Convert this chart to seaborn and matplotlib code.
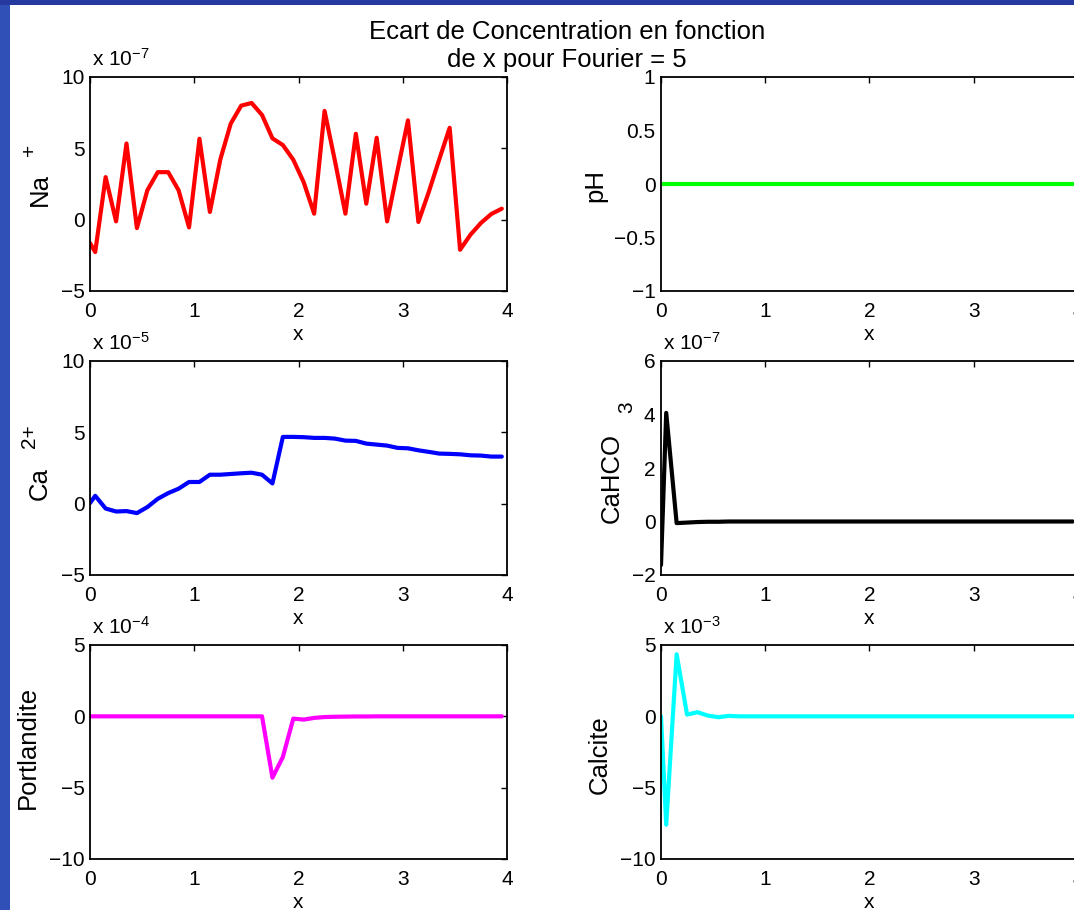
import numpy as np
import pandas as pd
import matplotlib
matplotlib.use("Agg")
import matplotlib.pyplot as plt
from matplotlib.patches import Rectangle
from matplotlib.ticker import FuncFormatter
import seaborn as sns

# ---------------- data (mantissas; exponent shown as "x 10^n") ----------------
x_pos = [0.0, 0.05, 0.15, 0.25, 0.35, 0.45, 0.55, 0.65, 0.75, 0.85, 0.95,
         1.05, 1.15, 1.25, 1.35, 1.45, 1.55, 1.65, 1.75, 1.85, 1.95,
         2.05, 2.15, 2.25, 2.35, 2.45, 2.55, 2.65, 2.75, 2.85, 2.95,
         3.05, 3.15, 3.25, 3.35, 3.45, 3.55, 3.65, 3.75, 3.85, 3.95]

na_vals = [-1.64, -2.27, 2.98, -0.12, 5.34, -0.59, 2.06, 3.33, 3.33, 2.06, -0.54,
           5.67, 0.54, 4.22, 6.73, 7.99, 8.18, 7.34, 5.70, 5.23, 4.20,
           2.62, 0.42, 7.62, 4.10, 0.42, 6.02, 1.12, 5.74, -0.12, 3.45,
           6.96, -0.16, 1.95, 4.22, 6.44, -2.11, -1.05, -0.23, 0.40, 0.77]

ph_vals = [0.0, 0.0, 0.0, 0.0, 0.0, 0.0, 0.0, 0.0, 0.0, 0.0, 0.0,
           0.0, 0.0, 0.0, 0.0, 0.0, 0.0, 0.0, 0.0, 0.0, 0.0,
           0.0, 0.0, 0.0, 0.0, 0.0, 0.0, 0.0, 0.0, 0.0, 0.0,
           0.0, 0.0, 0.0, 0.0, 0.0, 0.0, 0.0, 0.0, 0.0, 0.0]

ca_vals = [0.04, 0.55, -0.34, -0.55, -0.52, -0.66, -0.24, 0.34, 0.74, 1.05, 1.52,
           1.52, 2.03, 2.03, 2.08, 2.13, 2.17, 2.03, 1.42, 4.68, 4.68,
           4.66, 4.61, 4.61, 4.56, 4.42, 4.40, 4.21, 4.14, 4.07, 3.91,
           3.88, 3.74, 3.63, 3.51, 3.49, 3.46, 3.39, 3.37, 3.30, 3.30]

cahco3_vals = [-1.63, 4.06, -0.06, -0.04, -0.02, -0.01, -0.01, 0.0, 0.0, 0.0, 0.0,
               0.0, 0.0, 0.0, 0.0, 0.0, 0.0, 0.0, 0.0, 0.0, 0.0,
               0.0, 0.0, 0.0, 0.0, 0.0, 0.0, 0.0, 0.0, 0.0, 0.0,
               0.0, 0.0, 0.0, 0.0, 0.0, 0.0, 0.0, 0.0, 0.0, 0.0]

portlandite_vals = [0.0, 0.0, 0.0, 0.0, 0.0, 0.0, 0.0, 0.0, 0.0, 0.0, 0.0,
                    0.0, 0.0, 0.0, 0.0, 0.0, 0.0, 0.0, -4.30, -2.85, -0.16,
                    -0.23, -0.11, -0.05, -0.03, -0.02, -0.01, -0.01, 0.0, 0.0, 0.0,
                    0.0, 0.0, 0.0, 0.0, 0.0, 0.0, 0.0, 0.0, 0.0, 0.0]

calcite_vals = [0.0, -7.60, 4.35, 0.12, 0.29, 0.05, -0.06, 0.03, 0.0, 0.0, 0.0,
                0.0, 0.0, 0.0, 0.0, 0.0, 0.0, 0.0, 0.0, 0.0, 0.0,
                0.0, 0.0, 0.0, 0.0, 0.0, 0.0, 0.0, 0.0, 0.0, 0.0,
                0.0, 0.0, 0.0, 0.0, 0.0, 0.0, 0.0, 0.0, 0.0, 0.0]

exponents = {"na": -7, "ph": None, "ca": -5, "cahco3": -7, "portlandite": -4, "calcite": -3}
x_ticks = [0, 1, 2, 3, 4]
na_yticks = [-5, 0, 5, 10]
ph_yticks = [-1, -0.5, 0, 0.5, 1]
ca_yticks = [-5, 0, 5, 10]
cahco3_yticks = [-2, 0, 2, 4, 6]
portlandite_yticks = [-10, -5, 0, 5]
calcite_yticks = [-10, -5, 0, 5]

title_lines = ["Ecart de Concentration en fonction", "de x pour Fourier = 5"]

# ---------------- style ----------------
sns.set_style("white")
plt.rcParams["font.family"] = ["Liberation Sans", "DejaVu Sans"]
plt.rcParams["mathtext.fontset"] = "custom"
plt.rcParams["mathtext.rm"] = "Liberation Sans"
plt.rcParams["mathtext.it"] = "Liberation Sans"
plt.rcParams["axes.unicode_minus"] = True
plt.rcParams["text.color"] = "black"
plt.rcParams["axes.labelcolor"] = "black"
plt.rcParams["xtick.color"] = "black"
plt.rcParams["ytick.color"] = "black"

W, H = 1074, 910
fig = plt.figure(figsize=(W / 100, H / 100), dpi=100)
fig.patch.set_facecolor("white")

# decorative slide border
fig.add_artist(Rectangle((0, 0), 10 / W, 1, transform=fig.transFigure,
                         facecolor="#3050b8", edgecolor="none", zorder=10))
fig.add_artist(Rectangle((0, 1 - 5 / H), 1, 5 / H, transform=fig.transFigure,
                         facecolor="#26399e", edgecolor="none", zorder=10))

col_left = [90, 661]
ax_w = 417
rows = [(77, 291), (361, 575), (645, 859)]


def make_ax(col, row):
    l = col_left[col]
    t, b = rows[row]
    return fig.add_axes([l / W, 1 - b / H, ax_w / W, (b - t) / H])


def fmt(v, pos):
    s = "%g" % v
    return s.replace("-", "\u2212")


TICK_FS = 15
LAB_FS = 18.5

panels = [
    # (col, row, values, color, yticks, label, extra, extra_pos, label_pos, exponent)
    (0, 0, na_vals, "#ff0000", na_yticks, "Na", "+", (-0.144, 0.66), (-0.12, 0.472), exponents["na"]),
    (1, 0, ph_vals, "#00ff00", ph_yticks, "pH", None, None, (-0.158, 0.495), exponents["ph"]),
    (0, 1, ca_vals, "#0000ff", ca_yticks, "Ca", "2+", (-0.146, 0.647), (-0.12, 0.425), exponents["ca"]),
    (1, 1, cahco3_vals, "#000000", cahco3_yticks, "CaHCO", "3", (-0.082, 0.785), (-0.118, 0.453), exponents["cahco3"]),
    (0, 2, portlandite_vals, "#ff00ff", portlandite_yticks, "Portlandite", None, None, (-0.148, 0.519), exponents["portlandite"]),
    (1, 2, calcite_vals, "#00ffff", calcite_yticks, "Calcite", None, None, (-0.147, 0.486), exponents["calcite"]),
]

for col, row, vals, color, yticks, label, extra, extra_pos, label_pos, expo in panels:
    ax = make_ax(col, row)
    df = pd.DataFrame({"x": x_pos, "y": vals})
    sns.lineplot(data=df, x="x", y="y", ax=ax, color=color, linewidth=3,
                 estimator=None, sort=False)
    ax.set_xlim(0, 4)
    ax.set_ylim(yticks[0], yticks[-1])
    ax.set_xticks(x_ticks)
    ax.set_yticks(yticks)
    ax.xaxis.set_major_formatter(FuncFormatter(fmt))
    ax.yaxis.set_major_formatter(FuncFormatter(fmt))
    ax.tick_params(direction="in", length=4, width=1.0, labelsize=TICK_FS,
                   top=True, right=(col == 0), colors="black", labelcolor="black")
    ax.tick_params(axis="y", pad=4)
    ax.tick_params(axis="x", pad=8)
    for sp in ax.spines.values():
        sp.set_visible(True)
        sp.set_linewidth(1.3)
        sp.set_color("black")
    ax.set_xlabel("x", fontsize=TICK_FS, labelpad=3, color="black")
    ax.set_ylabel(label, fontsize=LAB_FS, va="center", color="black")
    ax.yaxis.set_label_coords(*label_pos)
    if extra is not None:
        ax.text(extra_pos[0], extra_pos[1], extra, transform=ax.transAxes,
                rotation=90, ha="center", va="center", fontsize=TICK_FS,
                clip_on=False, color="black")
    if expo is not None:
        ax.text(0.005, 1.05, r"x 10$^{\mathregular{%s}}$" % fmt(expo, None),
                transform=ax.transAxes, ha="left", va="baseline",
                fontsize=TICK_FS, clip_on=False, color="black")
    ax.set_facecolor("white")

fig.text(567 / W, 1 - 20 / H, "\n".join(title_lines), ha="center", va="top",
         fontsize=18.5, linespacing=1.2, color="black")

fig.savefig("out.png", dpi=100, facecolor="white")
